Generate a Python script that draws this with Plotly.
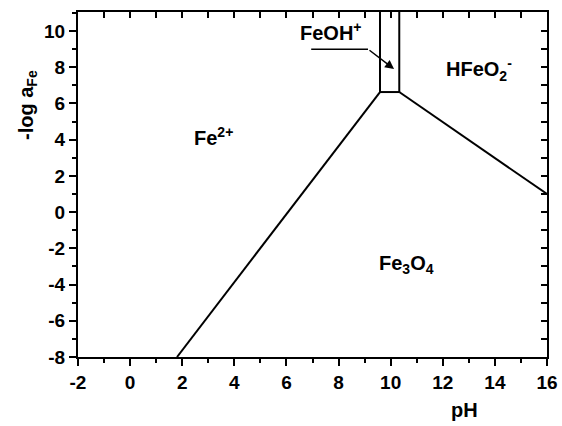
import plotly.graph_objects as go

# Boundary lines of the Fe–H2O (pH vs -log aFe) diagram
b1_x = [1.8, 9.59]          # Fe2+ / Fe3O4
b1_y = [-8, 6.63]
b2_x = [9.59, 10.33]        # FeOH+ / Fe3O4
b2_y = [6.63, 6.63]
b3_x = [10.33, 16]          # HFeO2- / Fe3O4
b3_y = [6.63, 1.0]
v1_x = [9.59, 9.59]         # Fe2+ / FeOH+
v1_y = [6.63, 11.1]
v2_x = [10.33, 10.33]       # FeOH+ / HFeO2-
v2_y = [6.63, 11.1]

x_range = [-2, 16]
y_range = [-8, 11.05]
x_ticks = [-2, 0, 2, 4, 6, 8, 10, 12, 14, 16]
y_ticks = [-8, -6, -4, -2, 0, 2, 4, 6, 8, 10]

labels = ["Fe<sup>2+</sup>", "Fe<sub>3</sub>O<sub>4</sub>", "HFeO<sub>2</sub><sup>-</sup>"]
label_x = [3.2, 10.6, 13.4]
label_y = [4.15, -2.9, 7.85]

FONT = "Liberation Sans, Arial, sans-serif"

fig = go.Figure()
for xs, ys in [(b1_x, b1_y), (b2_x, b2_y), (b3_x, b3_y), (v1_x, v1_y), (v2_x, v2_y)]:
    fig.add_trace(go.Scatter(x=xs, y=ys, mode="lines",
                             line=dict(color="black", width=2),
                             showlegend=False, hoverinfo="skip", cliponaxis=True))

# invisible trace for mirrored (inward-tick) axes
fig.add_trace(go.Scatter(x=[None], y=[None], xaxis="x2", yaxis="y2",
                         showlegend=False, hoverinfo="skip"))

for t, x, y in zip(labels, label_x, label_y):
    fig.add_annotation(x=x, y=y, text=f"<b>{t}</b>", showarrow=False,
                       font=dict(family=FONT, size=20, color="black"))

# FeOH+ label with underline + arrow
fig.add_annotation(x=7.7, y=9.95, text="<b>FeOH<sup>+</sup></b>", showarrow=False,
                   font=dict(family=FONT, size=20, color="black"))
fig.add_shape(type="line", x0=6.95, y0=9.0, x1=9.13, y1=9.0,
              line=dict(color="black", width=1.5))
fig.add_annotation(x=10.13, y=7.9, ax=9.13, ay=9.0, axref="x", ayref="y",
                   text="", showarrow=True, arrowhead=2, arrowsize=1.2,
                   arrowwidth=1.5, arrowcolor="black")

axis_common = dict(showline=True, linecolor="black", linewidth=2,
                   showgrid=False, zeroline=False, mirror=False, automargin=False)

fig.update_layout(
    width=562, height=426,
    paper_bgcolor="white", plot_bgcolor="white",
    margin=dict(l=78, r=15, t=12, b=69),
    font=dict(family=FONT, size=19, color="black"),
    xaxis=dict(range=x_range, tickvals=x_ticks, ticktext=[f"<b>{v}</b>" for v in x_ticks],
               ticks="outside", ticklen=7, tickwidth=2, tickcolor="black",
               minor=dict(dtick=1, ticks="outside", ticklen=4, tickwidth=2, tickcolor="black"),
               tickfont=dict(size=19), **axis_common),
    yaxis=dict(range=y_range, tickvals=y_ticks, ticktext=[f"<b>{v}</b>" for v in y_ticks],
               ticks="outside", ticklen=7, tickwidth=2, tickcolor="black",
               minor=dict(dtick=1, ticks="outside", ticklen=4, tickwidth=2, tickcolor="black"),
               tickfont=dict(size=19), **axis_common),
    xaxis2=dict(range=x_range, overlaying="x", side="top", tickvals=x_ticks,
                showticklabels=False, ticks="inside", ticklen=6, tickwidth=2, tickcolor="black",
                minor=dict(dtick=1, ticks="inside", ticklen=6, tickwidth=2, tickcolor="black"),
                **axis_common),
    yaxis2=dict(range=y_range, overlaying="y", side="right", tickvals=y_ticks,
                showticklabels=False, ticks="inside", ticklen=6, tickwidth=2, tickcolor="black",
                minor=dict(dtick=1, ticks="inside", ticklen=6, tickwidth=2, tickcolor="black"),
                **axis_common),
)

fig.add_annotation(xref="paper", yref="paper", x=(464 - 78) / 469, y=(357 - 410) / 345,
                   xanchor="center", yanchor="middle",
                   text="<b>pH</b>", showarrow=False, font=dict(family=FONT, size=20))
fig.add_annotation(xref="paper", yref="paper", x=(27 - 78) / 469, y=(357 - 105) / 345,
                   xanchor="center", yanchor="middle",
                   text="<b>-log a<sub>Fe</sub></b>", showarrow=False, textangle=-90,
                   font=dict(family=FONT, size=20))

fig.write_html("out.html")
